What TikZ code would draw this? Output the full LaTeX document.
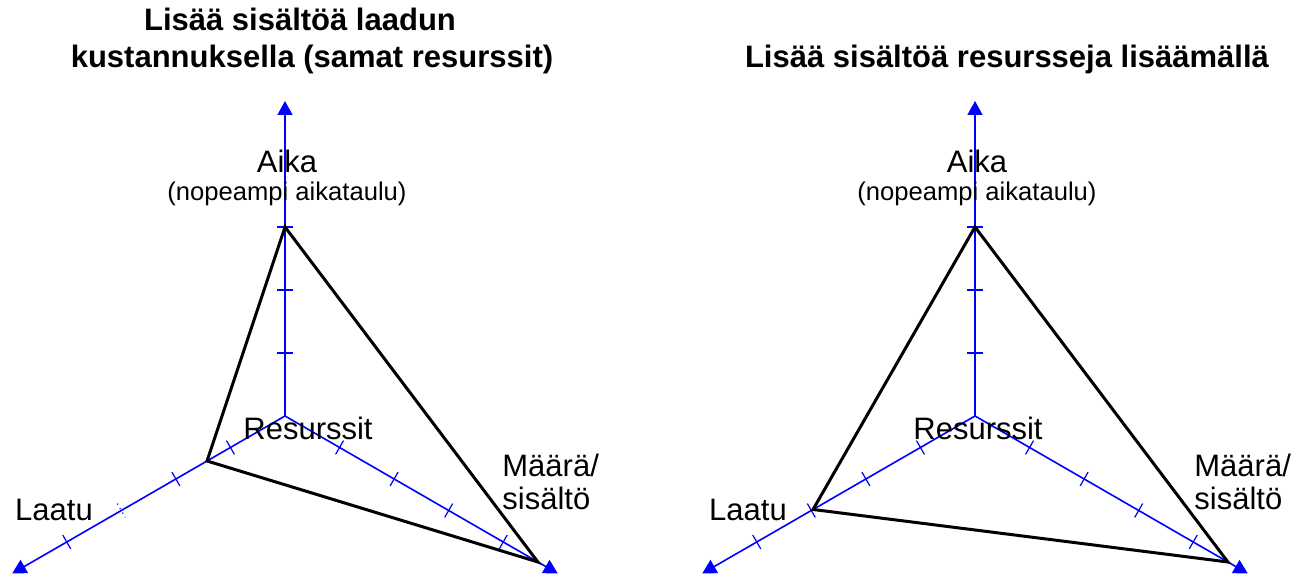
\documentclass[tikz,border=0pt]{standalone}
\usepackage{fontspec}
\setmainfont{Liberation Sans}
\usetikzlibrary{arrows.meta}
\tikzset{>={Triangle[length=7pt,width=7.5pt]}}
\tikzset{
  axis/.style={draw=blue,line width=0.8pt,->},
  tickmark/.style={draw=blue,line width=0.6pt},
  profile/.style={draw=black,line width=1.5pt,line join=miter},
  lbl/.style={font=\fontsize{15.5}{17}\selectfont,inner sep=0pt,anchor=base},
  sublbl/.style={font=\fontsize{12.8}{14}\selectfont,inner sep=0pt,anchor=base},
  ttl/.style={font=\fontsize{15.5}{18.5}\selectfont\bfseries,inner sep=0pt,anchor=base}
}

\begin{document}
\begin{tikzpicture}[x=0.5pt,y=0.5pt]
  \useasboundingbox (0,0) rectangle (1303,576);

  % titles
  \node[ttl] (ltitle1) at (300,545) {Lisää sisältöä laadun};
  \node[ttl] (ltitle2) at (312,508) {kustannuksella (samat resurssit)};
  \node[ttl] (rtitle) at (1007,508) {Lisää sisältöä resursseja lisäämällä};

  % left chart
  \begin{scope}[shift={(285,160)}]
    \coordinate (lo) at (0,0);
    \coordinate (laika) at (90:315);
    \coordinate (llaatu) at (210:315);
    \coordinate (lmaara) at (330:315);
    \foreach \k in {1,2,3} \draw[tickmark,rotate=90] (63*\k,-8) -- (63*\k,8);
    \foreach \k in {1,2,4} \draw[tickmark,rotate=210] (63*\k,-8) -- (63*\k,8);
    \draw[tickmark,dotted,rotate=210] (189,-8) -- (189,8);
    \foreach \k in {1,...,4} \draw[tickmark,rotate=330] (63*\k,-8) -- (63*\k,8);
    \draw[axis] (lo) -- (laika);
    \draw[axis] (lo) -- (llaatu);
    \draw[axis] (lo) -- (lmaara);
    \coordinate (lp1) at (90:189);
    \coordinate (lp2) at (210:90);
    \coordinate (lp3) at (330:292);
  \end{scope}
  \draw[profile] (lp1) -- (lp2) -- (lp3) -- cycle;

  \node[lbl] (laikalbl) at (287,403) {Aika};
  \node[sublbl] (laikasub) at (287,375) {(nopeampi aikataulu)};
  \node[lbl] (lreslbl) at (308,136) {Resurssit};
  \node[lbl] (llaatulbl) at (54,55) {Laatu};
  \node[lbl,anchor=base west] (lmaaralbl) at (502,99) {Määrä/};
  \node[lbl,anchor=base west] (lsisaltolbl) at (502,66) {sisältö};

  % right chart
  \begin{scope}[shift={(975,160)}]
    \coordinate (ro) at (0,0);
    \coordinate (raika) at (90:315);
    \coordinate (rlaatu) at (210:315);
    \coordinate (rmaara) at (330:315);
    \foreach \k in {1,2,3} \draw[tickmark,rotate=90] (63*\k,-8) -- (63*\k,8);
    \foreach \k in {1,...,4} \draw[tickmark,rotate=210] (63*\k,-8) -- (63*\k,8);
    \foreach \k in {1,...,4} \draw[tickmark,rotate=330] (63*\k,-8) -- (63*\k,8);
    \draw[axis] (ro) -- (raika);
    \draw[axis] (ro) -- (rlaatu);
    \draw[axis] (ro) -- (rmaara);
    \coordinate (rp1) at (90:189);
    \coordinate (rp2) at (210:187);
    \coordinate (rp3) at (330:292);
  \end{scope}
  \draw[profile] (rp1) -- (rp2) -- (rp3) -- cycle;

  \node[lbl] (raikalbl) at (977,403) {Aika};
  \node[sublbl] (raikasub) at (977,375) {(nopeampi aikataulu)};
  \node[lbl] (rreslbl) at (978,136) {Resurssit};
  \node[lbl] (rlaatulbl) at (748,55) {Laatu};
  \node[lbl,anchor=base west] (rmaaralbl) at (1194,99) {Määrä/};
  \node[lbl,anchor=base west] (rsisaltolbl) at (1194,66) {sisältö};
\end{tikzpicture}
\end{document}
